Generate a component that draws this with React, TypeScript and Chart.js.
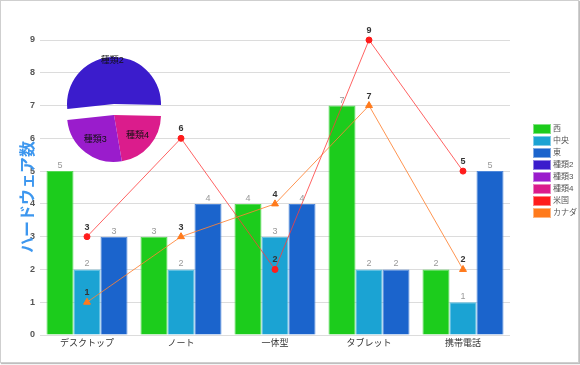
import React, { useEffect, useRef } from "react";
import { Chart, registerables } from "chart.js";

Chart.register(...registerables);

// ---- data ----
const categories = ["デスクトップ", "ノート", "一体型", "タブレット", "携帯電話"];
const westValues = [5, 3, 4, 7, 2];
const centralValues = [2, 2, 3, 2, 1];
const eastValues = [3, 4, 4, 2, 5];
const usValues = [3, 6, 2, 9, 5];
const canadaValues = [1, 3, 4, 7, 2];
const pieLabels = ["種類2", "種類4", "種類3"];
const pieValues = [52, 22, 26];
const yMin = 0;
const yMax = 9;
const yStep = 1;
const legendLabels = ["西", "中央", "東", "種類2", "種類3", "種類4", "米国", "カナダ"];
const yTitle = "ハードウェア数";

// ---- styles ----
const C_WEST = "#1ccc1c";
const C_CENTRAL = "#1ba3d3";
const C_EAST = "#1b64cc";
const C_T2 = "#3b1ccc";
const C_T3 = "#9a1ccc";
const C_T4 = "#db1c8c";
const C_US = "#ff1c1c";
const C_CA = "#ff7a1c";
const legendColors = [C_WEST, C_CENTRAL, C_EAST, C_T2, C_T3, C_T4, C_US, C_CA];
const pieColors = [C_T2, C_T4, C_T3];
const FONT = "'Liberation Sans', 'Noto Sans CJK JP', sans-serif";
const PIE_EXPLODE = 11;

Chart.defaults.font.family = FONT;

const labelPlugin = {
  id: "valueLabels",
  afterDatasetsDraw(chart: any) {
    const ctx = chart.ctx;
    ctx.save();
    chart.data.datasets.forEach((ds: any, i: number) => {
      const meta = chart.getDatasetMeta(i);
      meta.data.forEach((el: any, j: number) => {
        const v = ds.data[j];
        ctx.textAlign = "center";
        ctx.textBaseline = "bottom";
        if (ds.type === "line") {
          ctx.font = "bold 9px " + FONT;
          ctx.fillStyle = "#333";
          ctx.fillText(String(v), el.x, el.y - 5);
        } else {
          ctx.font = "9px " + FONT;
          ctx.fillStyle = "#999";
          ctx.fillText(String(v), el.x, el.y - 1);
        }
      });
    });
    ctx.restore();
  },
  afterDraw(chart: any) {
    const ctx = chart.ctx;
    ctx.save();
    ctx.translate(27, 197);
    ctx.rotate(-Math.PI / 2);
    ctx.font = "bold 16px 'Noto Sans CJK JP', sans-serif";
    ctx.fillStyle = "#3d97ef";
    ctx.textAlign = "center";
    ctx.textBaseline = "middle";
    ctx.fillText(yTitle, 0, 0);
    ctx.restore();
    ctx.save();
    legendLabels.forEach((lab, i) => {
      const cy = 129 + 12 * i;
      ctx.fillStyle = legendColors[i];
      ctx.fillRect(533, cy - 5, 18, 10);
      ctx.strokeStyle = "rgba(255,255,255,0.45)";
      ctx.lineWidth = 1;
      ctx.strokeRect(533.5, cy - 4.5, 17, 9);
      ctx.fillStyle = "#555";
      ctx.font = "8px " + FONT;
      ctx.textAlign = "left";
      ctx.textBaseline = "middle";
      ctx.fillText(lab, 553, cy);
    });
    ctx.restore();
  },
};

function makePieLabelPlugin(visible: boolean[]) {
  return {
    id: "pieLabels",
    afterDatasetsDraw(chart: any) {
      const ctx = chart.ctx;
      const meta = chart.getDatasetMeta(0);
      ctx.save();
      ctx.font = "9px " + FONT;
      ctx.fillStyle = "#111";
      ctx.textAlign = "center";
      ctx.textBaseline = "middle";
      meta.data.forEach((arc: any, i: number) => {
        if (!visible[i]) return;
        const mid = (arc.startAngle + arc.endAngle) / 2;
        const r = i === 0 ? arc.outerRadius - 3 : arc.outerRadius * 0.66;
        ctx.fillText(pieLabels[i], arc.x + Math.cos(mid) * r, arc.y + Math.sin(mid) * r);
      });
      ctx.restore();
    },
  };
}

function makePie(canvas: HTMLCanvasElement, visible: boolean[]) {
  return new Chart(canvas, {
    type: "pie",
    data: {
      labels: pieLabels,
      datasets: [
        {
          data: pieValues,
          backgroundColor: pieColors.map((c, i) => (visible[i] ? c : "rgba(0,0,0,0)")),
          borderWidth: 0,
        } as any,
      ],
    },
    options: {
      animation: false,
      responsive: false,
      maintainAspectRatio: false,
      radius: 47,
      rotation: 264,
      layout: { padding: 0 },
      plugins: { legend: { display: false }, tooltip: { enabled: false } },
    } as any,
    plugins: [makePieLabelPlugin(visible)],
  });
}

export default function App() {
  const mainRef = useRef<HTMLCanvasElement>(null);
  const pieTopRef = useRef<HTMLCanvasElement>(null);
  const pieBottomRef = useRef<HTMLCanvasElement>(null);

  useEffect(() => {
    const main = new Chart(mainRef.current!, {
      type: "bar",
      data: {
        labels: categories,
        datasets: [
          {
            type: "line",
            label: "米国",
            data: usValues,
            borderColor: "rgba(255,60,60,0.8)",
            backgroundColor: C_US,
            borderWidth: 1,
            pointRadius: 3,
            pointBackgroundColor: C_US,
            pointBorderColor: C_US,
            pointStyle: "circle",
            fill: false,
            tension: 0,
            order: 0,
            clip: false,
          } as any,
          {
            type: "line",
            label: "カナダ",
            data: canadaValues,
            borderColor: "rgba(255,130,50,0.85)",
            backgroundColor: C_CA,
            borderWidth: 1,
            pointRadius: 4,
            pointBackgroundColor: C_CA,
            pointBorderColor: C_CA,
            pointStyle: "triangle",
            fill: false,
            tension: 0,
            order: 0,
            clip: false,
          } as any,
          {
            type: "bar",
            label: "西",
            data: westValues,
            backgroundColor: C_WEST,
            borderColor: "#56da56",
            borderWidth: 1,
            order: 1,
          } as any,
          {
            type: "bar",
            label: "中央",
            data: centralValues,
            backgroundColor: C_CENTRAL,
            borderColor: "#55bce0",
            borderWidth: 1,
            order: 1,
          } as any,
          {
            type: "bar",
            label: "東",
            data: eastValues,
            backgroundColor: C_EAST,
            borderColor: "#5088da",
            borderWidth: 1,
            order: 1,
          } as any,
        ],
      },
      options: {
        animation: false,
        responsive: false,
        maintainAspectRatio: false,
        layout: { padding: { top: 40, right: 70, left: 0, bottom: 0 } },
        datasets: { bar: { categoryPercentage: 0.862, barPercentage: 1 } },
        plugins: { legend: { display: false }, tooltip: { enabled: false } },
        scales: {
          x: {
            grid: { display: false, drawTicks: false },
            border: { display: false },
            ticks: { font: { size: 9 }, color: "#333", padding: 3, maxRotation: 0, autoSkip: false },
            afterFit: (s: any) => {
              s.height = 30;
            },
          },
          y: {
            min: yMin,
            max: yMax,
            ticks: { stepSize: yStep, font: { size: 9, weight: "bold" }, color: "#555", padding: 5 },
            grid: { color: "#dcdcdc", drawTicks: false },
            border: { display: false },
            afterFit: (s: any) => {
              s.width = 40;
            },
          },
        },
      } as any,
      plugins: [labelPlugin],
    });

    const pieTop = makePie(pieTopRef.current!, [true, false, false]);
    const pieBottom = makePie(pieBottomRef.current!, [false, true, true]);

    return () => {
      main.destroy();
      pieTop.destroy();
      pieBottom.destroy();
    };
  }, []);

  const pieBox = { position: "absolute" as const, width: 130, height: 130, left: 49 };

  return (
    <div style={{ position: "fixed", left: 0, top: 0, width: 580, height: 365, background: "#fff" }}>
      <canvas ref={mainRef} width={580} height={365} style={{ position: "absolute", left: 0, top: 0, width: 580, height: 365 }} />
      <canvas ref={pieBottomRef} width={130} height={130} style={{ ...pieBox, top: 50 }} />
      <canvas ref={pieTopRef} width={130} height={130} style={{ ...pieBox, top: 50 - PIE_EXPLODE }} />
      <div
        style={{
          position: "absolute",
          left: 0,
          top: 0,
          width: 577,
          height: 361,
          border: "1px solid #cfcfcf",
          boxShadow: "1px 1px 1px rgba(0,0,0,0.25)",
          pointerEvents: "none",
        }}
      />
    </div>
  );
}
